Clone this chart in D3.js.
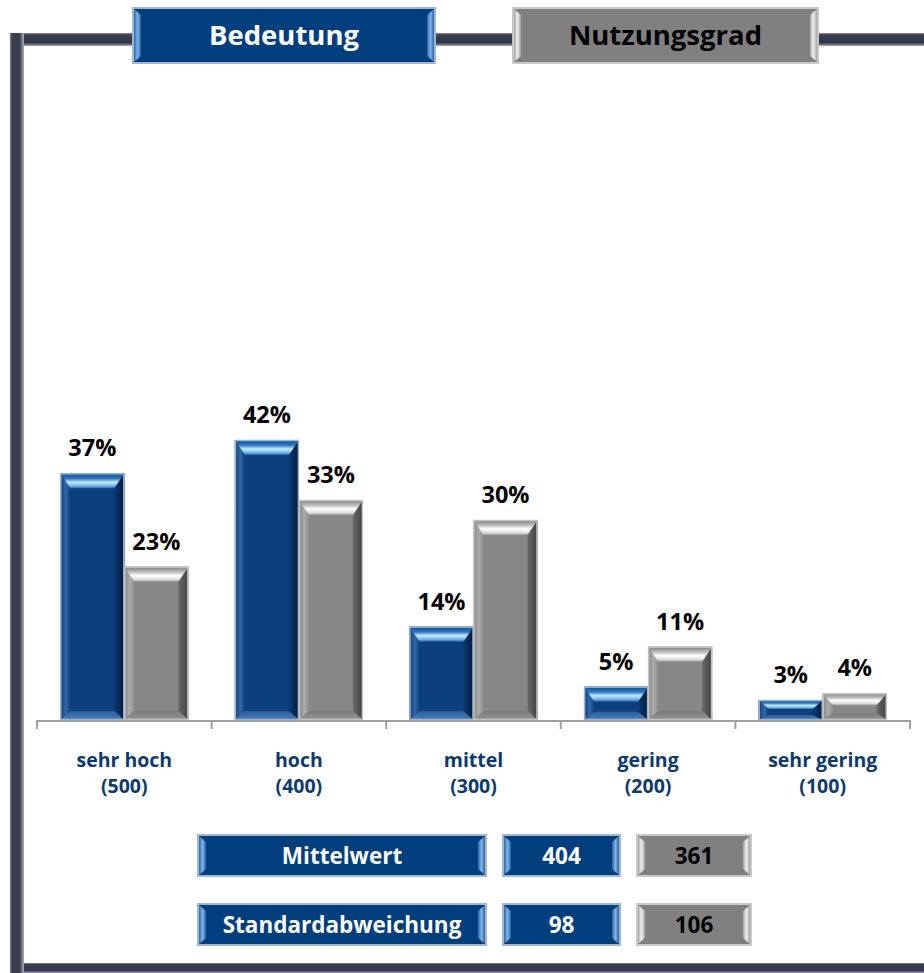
<!DOCTYPE html>
<html>
<head>
<meta charset="utf-8">
<script src="https://cdn.jsdelivr.net/npm/d3@7"></script>
<style>
    body { margin: 0; background: #fff; }
    svg { display: block; font-family: "Open Sans", "Noto Sans", sans-serif; font-weight: bold; }
</style>
</head>
<body>
<div id="chart"></div>
<script>
// chart data
const categories = ['sehr hoch', 'hoch', 'mittel', 'gering', 'sehr gering'];
const codes = ['(500)', '(400)', '(300)', '(200)', '(100)'];
const seriesNames = ['Bedeutung', 'Nutzungsgrad'];
const bedeutung = [37, 42, 14, 5, 3];
const nutzung = [23, 33, 30, 11, 4];
const statLabels = ['Mittelwert', 'Standardabweichung'];
const statBedeutung = [404, 98];
const statNutzung = [361, 106];

const W = 924, H = 973;
const baseY = 720;

const svg = d3.select('#chart').append('svg')
    .attr('width', W).attr('height', H);
const defs = svg.append('defs');

function grad(id, dir, stops) {
    const g = defs.append('linearGradient').attr('id', id);
    if (dir === 'v') g.attr('x1', 0).attr('y1', 0).attr('x2', 0).attr('y2', 1);
    else g.attr('x1', 0).attr('y1', 0).attr('x2', 1).attr('y2', 0);
    stops.forEach(s => g.append('stop').attr('offset', s[0]).attr('stop-color', s[1]));
}

// bar bevel gradients
grad('bTop', 'v', [[0, '#0f4a8c'], [0.35, '#2e78bf'], [0.6, '#c6ecff'], [0.85, '#6db2e6'], [1, '#2563a6']]);
grad('bLeft', 'h', [[0, '#0b3c78'], [0.55, '#3168a8'], [1, '#123f7c']]);
grad('bRight', 'h', [[0, '#0a3a74'], [1, '#041a38']]);
grad('bBot', 'v', [[0, '#2a5d98'], [1, '#4a80bb']]);
grad('gTop', 'v', [[0, '#7c7c7c'], [0.35, '#bdbdbd'], [0.6, '#ffffff'], [0.85, '#dcdcdc'], [1, '#a0a0a0']]);
grad('gLeft', 'h', [[0, '#858585'], [0.55, '#acacac'], [1, '#8c8c8c']]);
grad('gRight', 'h', [[0, '#6a6a6a'], [1, '#404040']]);
grad('gBot', 'v', [[0, '#7a7a7a'], [1, '#969696']]);
// legend box side bevels
grad('lbSide', 'h', [[0, '#2a66aa'], [0.5, '#7fb4e6'], [1, '#2a62a5']]);
grad('lgSide', 'h', [[0, '#a6a6a6'], [0.5, '#eeeeee'], [1, '#a0a0a0']]);
// frame
grad('frameH', 'v', [[0, '#8c909c'], [0.15, '#3a3f50'], [0.75, '#30354a'], [1, '#a6a9b2']]);
grad('frameV', 'h', [[0, '#80848f'], [0.15, '#3a3f50'], [0.7, '#3a3f50'], [1, '#b0b3bb']]);

const styles = [
    { face: '#0b3f7e', top: 'url(#bTop)', left: 'url(#bLeft)', right: 'url(#bRight)', bot: 'url(#bBot)', edge: '#9db5ce' },
    { face: '#878787', top: 'url(#gTop)', left: 'url(#gLeft)', right: 'url(#gRight)', bot: 'url(#gBot)', edge: '#c4c4c4' }
];

// frame
svg.append('rect').attr('x', 10).attr('y', 33).attr('width', W - 10).attr('height', 13).attr('fill', 'url(#frameH)');
svg.append('rect').attr('x', 10).attr('y', 963).attr('width', W - 10).attr('height', 10).attr('fill', 'url(#frameH)');
svg.append('rect').attr('x', 10).attr('y', 33).attr('width', 14).attr('height', H - 33).attr('fill', 'url(#frameV)');

// scales
const x0 = d3.scaleBand().domain(categories).range([37, 910]);
const x1 = d3.scaleBand().domain(seriesNames).range([0, 128]);
const y = d3.scaleLinear().domain([0, 90]).range([baseY, 120]);

function bevelBar(g, bx, by, bw, bh, st) {
    const t = Math.min(15, bh * 0.45), b = Math.min(9, bh * 0.25), s = 10;
    const poly = pts => pts.map(p => p.join(',')).join(' ');
    g.append('rect').attr('x', bx).attr('y', by).attr('width', bw).attr('height', bh).attr('fill', st.face);
    g.append('polygon').attr('points', poly([[bx, by], [bx + s, by + t], [bx + s, by + bh - b], [bx, by + bh]])).attr('fill', st.left);
    g.append('polygon').attr('points', poly([[bx + bw, by], [bx + bw - s, by + t], [bx + bw - s, by + bh - b], [bx + bw, by + bh]])).attr('fill', st.right);
    g.append('polygon').attr('points', poly([[bx, by + bh], [bx + s, by + bh - b], [bx + bw - s, by + bh - b], [bx + bw, by + bh]])).attr('fill', st.bot);
    g.append('polygon').attr('points', poly([[bx, by], [bx + bw, by], [bx + bw - s, by + t], [bx + s, by + t]])).attr('fill', st.top);
    g.append('rect').attr('x', bx + 0.5).attr('y', by + 0.5).attr('width', bw - 1).attr('height', bh - 1)
        .attr('fill', 'none').attr('stroke', st.edge).attr('stroke-width', 1.5);
}

// bars
const rows = categories.map((c, i) => ({ cat: c, vals: [bedeutung[i], nutzung[i]] }));
const offset = (x0.bandwidth() - 128) / 2;
rows.forEach(r => {
    r.vals.forEach((v, k) => {
        const g = svg.append('g');
        const bx = x0(r.cat) + offset + x1(seriesNames[k]);
        bevelBar(g, bx, y(v), x1.bandwidth(), baseY - y(v), styles[k]);
        svg.append('text').attr('x', bx + x1.bandwidth() / 2).attr('y', y(v) - 17)
            .attr('text-anchor', 'middle').attr('font-size', 23.5).attr('fill', '#000')
            .text(v + '%');
    });
});

// axis
svg.append('line').attr('x1', 37).attr('x2', 910).attr('y1', baseY + 1).attr('y2', baseY + 1)
    .attr('stroke', '#a0a0a0').attr('stroke-width', 2);
const ticks = categories.map(c => x0(c)).concat([x0.range()[1]]);
svg.selectAll('.tick').data(ticks).enter().append('line')
    .attr('x1', d => d).attr('x2', d => d).attr('y1', baseY).attr('y2', baseY + 9)
    .attr('stroke', '#a0a0a0').attr('stroke-width', 2);

// category labels
categories.forEach((c, i) => {
    const t = svg.append('text').attr('x', x0(c) + x0.bandwidth() / 2).attr('text-anchor', 'middle')
        .attr('font-size', 19.5).attr('fill', '#0d3a6e');
    t.append('tspan').attr('x', x0(c) + x0.bandwidth() / 2).attr('y', 767).text(c);
    t.append('tspan').attr('x', x0(c) + x0.bandwidth() / 2).attr('y', 793).text(codes[i]);
});

// labelled boxes (legend and stats table)
function box(bx, by, bw, bh, blue, label, size) {
    const g = svg.append('g');
    g.append('rect').attr('x', bx).attr('y', by).attr('width', bw).attr('height', bh)
        .attr('fill', blue ? '#003e7e' : '#808080')
        .attr('stroke', blue ? '#a2b7cd' : '#c8c8c8').attr('stroke-width', 2);
    const s = 7, t = 6;
    const side = blue ? 'url(#lbSide)' : 'url(#lgSide)';
    g.append('polygon').attr('points', [[bx + 1, by + 1], [bx + 1 + s, by + 1 + t], [bx + 1 + s, by + bh - 1 - t], [bx + 1, by + bh - 1]].join(' '))
        .attr('fill', side);
    g.append('polygon').attr('points', [[bx + bw - 1, by + 1], [bx + bw - 1 - s, by + 1 + t], [bx + bw - 1 - s, by + bh - 1 - t], [bx + bw - 1, by + bh - 1]].join(' '))
        .attr('fill', side);
    g.append('text').attr('x', bx + bw / 2).attr('y', by + bh / 2).attr('dy', '0.36em')
        .attr('text-anchor', 'middle').attr('font-size', size)
        .attr('fill', blue ? '#ffffff' : '#000000').text(label);
}

box(133, 8, 302, 55, true, seriesNames[0], 27.5);
box(513, 8, 305, 55, false, seriesNames[1], 27.5);

const statY = d3.scaleBand().domain(statLabels).range([835, 945]).paddingInner(0.406);
statLabels.forEach((s, i) => {
    box(198, statY(s), 288, statY.bandwidth(), true, s, 22.5);
    box(503, statY(s), 117, statY.bandwidth(), true, statBedeutung[i], 22.5);
    box(637, statY(s), 114, statY.bandwidth(), false, statNutzung[i], 22.5);
});
</script>
</body>
</html>
